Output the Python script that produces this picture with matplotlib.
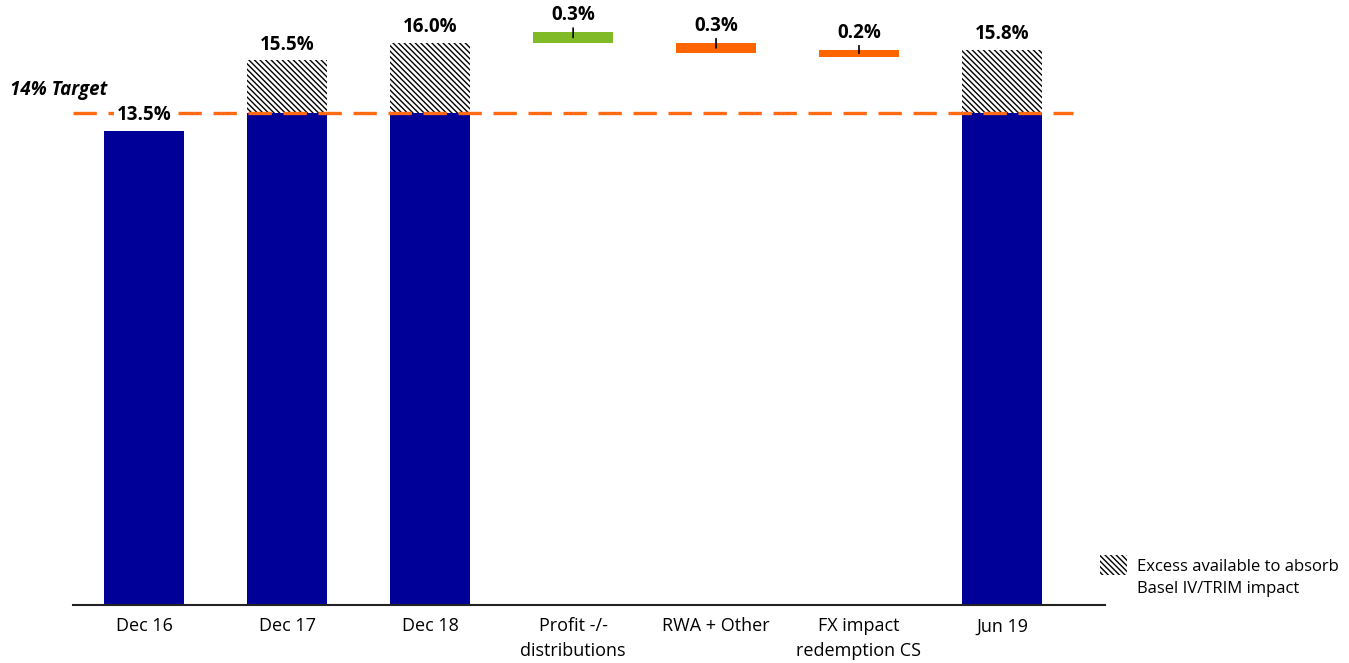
import matplotlib.pyplot as plt
from matplotlib.patches import Rectangle

# CET1 ratio bridge, Dec 16 -> Jun 19
categories = ['Dec 16', 'Dec 17', 'Dec 18', 'Profit -/-\ndistributions',
              'RWA + Other', 'FX impact\nredemption CS', 'Jun 19']

ratio_pos = [0, 1, 2, 6]
ratio_values = [13.5, 15.5, 16.0, 15.8]

bridge_pos = [3, 4, 5]
bridge_start = [16.0, 16.0, 15.8]
bridge_delta = [0.3, -0.3, -0.2]
bridge_colors = ['#80BA27', '#FF6600', '#FF6600']

target = 14.0

navy = '#000099'
hatch = '\\' * 6

plt.rcParams['font.family'] = ['Open Sans', 'DejaVu Sans']
plt.rcParams['hatch.linewidth'] = 1.0

fig = plt.figure(figsize=(13.49, 6.63), dpi=100)
ax = fig.add_axes([0.054, 0.0875, 0.765, 0.901])
ax.set_xlim(-0.5, 6.72)
ax.set_ylim(0, 17)

w = 0.56
for x, v in zip(ratio_pos, ratio_values):
    base = min(v, target)
    ax.bar(x, base, width=w, color=navy, zorder=2)
    if v > target:
        ax.bar(x, v - target, bottom=target, width=w, facecolor='white',
               edgecolor='black', linewidth=0, hatch=hatch, zorder=2)
    ax.annotate(f'{v:.1f}%', xy=(x, v), xytext=(0, 4), textcoords='offset points',
                ha='center', va='bottom', fontsize=13.5, fontweight='bold', zorder=5,
                bbox=dict(boxstyle='square,pad=0.15', fc='white', ec='none'))

# the dashed target line sits over the bars
ax.plot([-0.5, 6.5], [target, target], color='#FF6A13', lw=2.4,
        dashes=(7, 3.5), zorder=4)

for x, s, d, c in zip(bridge_pos, bridge_start, bridge_delta, bridge_colors):
    ax.bar(x, d, bottom=s, width=w, color=c, zorder=2)
    top = max(s, s + d)
    mid = s + d / 2
    dy = ax.transData.transform((0, top))[1] - ax.transData.transform((0, mid))[1]
    ax.annotate(f'{abs(d):.1f}%', xy=(x, mid), xytext=(0, dy * 0.72 + 5),
                textcoords='offset points', ha='center', va='bottom',
                fontsize=13.5, fontweight='bold', zorder=5,
                arrowprops=dict(arrowstyle='-', color='black', lw=1.2,
                                shrinkA=0, shrinkB=0))

ax.set_xticks(range(len(categories)))
ax.set_xticklabels(categories, fontsize=13, linespacing=1.45)
ax.tick_params(axis='x', length=0, pad=9)
ax.set_yticks([])
for side in ['top', 'right', 'left']:
    ax.spines[side].set_visible(False)
ax.spines['bottom'].set_color('#222222')
ax.spines['bottom'].set_linewidth(1.5)

fig.text(10 / 1349, 1 - 90 / 663, '14% Target', fontsize=13.5, fontweight='bold',
         fontstyle='italic', va='center', ha='left')

# legend drawn by hand next to the plot
fig.add_artist(Rectangle((1100 / 1349, 1 - 575 / 663), 27 / 1349, 20 / 663,
                         transform=fig.transFigure, facecolor='white',
                         edgecolor='black', linewidth=0, hatch=hatch))
fig.text(1137 / 1349, 1 - 559 / 663, 'Excess available to absorb\nBasel IV/TRIM impact',
         fontsize=12, va='top', ha='left', linespacing=1.5)

fig.savefig('out.png', dpi=100)
